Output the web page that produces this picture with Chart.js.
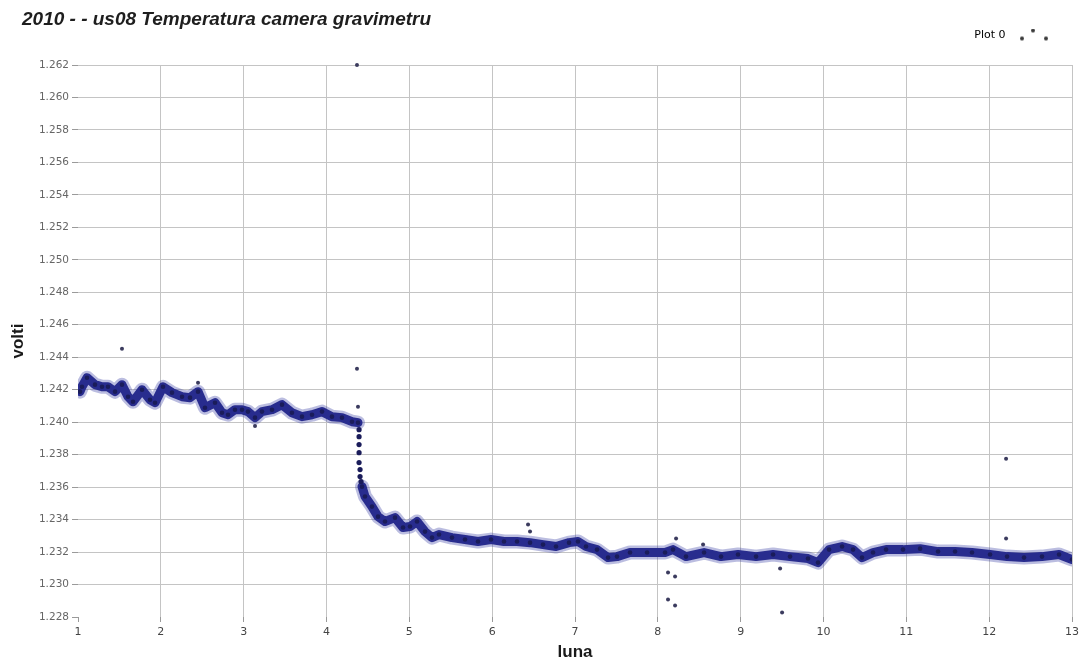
<!DOCTYPE html>
<html>
<head>
<meta charset="utf-8">
<script src="https://cdn.jsdelivr.net/npm/chart.js@4.4.1/dist/chart.umd.min.js"></script>
<style>
html,body{margin:0;padding:0;background:#fff;}
#wrap{width:1083px;height:664px;}
</style>
</head>
<body>
<div id="wrap"><canvas id="c" width="1083" height="664"></canvas></div>
<script>
// ---- texts ----
const chartTitle = '2010 - - us08 Temperatura camera gravimetru';
const seriesName = 'Plot 0';
const xAxisTitle = 'luna';
const yAxisTitle = 'volti';

// ---- tick labels ----
const xTicks = [1,2,3,4,5,6,7,8,9,10,11,12,13];
const yTicks = [1.228,1.230,1.232,1.234,1.236,1.238,1.240,1.242,1.244,1.246,1.248,1.250,1.252,1.254,1.256,1.258,1.260,1.262];

// ---- data: dense band before the drop (luna, volti) ----
const bandBeforeX = [1.024,1.048,1.109,1.205,1.290,1.362,1.447,1.531,1.604,1.664,1.773,1.869,1.930,2.026,2.135,2.256,2.352,2.449,2.533,2.654,2.739,2.811,2.895,2.980,3.052,3.137,3.221,3.342,3.463,3.583,3.704,3.825,3.946,4.066,4.187,4.308,4.380];
const bandBeforeY = [1.24188,1.24218,1.24274,1.24231,1.24218,1.24218,1.24188,1.24231,1.24157,1.24126,1.24200,1.24138,1.24120,1.24218,1.24182,1.24157,1.24151,1.24188,1.24089,1.24120,1.24058,1.24046,1.24077,1.24077,1.24065,1.24028,1.24065,1.24077,1.24108,1.24058,1.24034,1.24046,1.24065,1.24034,1.24028,1.24003,1.23997];

// ---- data: the sharp drop ----
const dropX = [4.393,4.393,4.393,4.393,4.393,4.405,4.405,4.417];
const dropY = [1.23954,1.23911,1.23862,1.23812,1.23751,1.23708,1.23665,1.23634];

// ---- data: dense band after the drop ----
const bandAfterX = [4.429,4.465,4.549,4.622,4.706,4.827,4.924,5.008,5.093,5.189,5.274,5.358,5.515,5.672,5.829,5.986,6.143,6.300,6.457,6.614,6.771,6.928,7.036,7.133,7.266,7.399,7.507,7.664,7.870,8.087,8.183,8.340,8.558,8.763,8.968,9.186,9.391,9.596,9.813,9.934,10.067,10.224,10.357,10.465,10.598,10.755,10.960,11.166,11.383,11.588,11.793,12.011,12.216,12.421,12.638,12.844,13.000];
const bandAfterY = [1.23603,1.23542,1.23480,1.23418,1.23388,1.23412,1.23351,1.23357,1.23388,1.23326,1.23289,1.23308,1.23289,1.23277,1.23265,1.23277,1.23265,1.23265,1.23258,1.23246,1.23234,1.23258,1.23265,1.23234,1.23215,1.23166,1.23172,1.23197,1.23197,1.23197,1.23215,1.23172,1.23197,1.23172,1.23185,1.23172,1.23185,1.23172,1.23160,1.23135,1.23215,1.23234,1.23215,1.23166,1.23197,1.23215,1.23215,1.23221,1.23203,1.23203,1.23197,1.23185,1.23172,1.23166,1.23172,1.23185,1.23154];

// ---- data: isolated points ----
const outlierX = [4.368,1.531,4.368,4.380,6.433,6.457,8.220,8.546,8.123,8.208,8.123,8.208,9.500,12.204,12.204,9.476,3.137,2.449];
const outlierY = [1.26200,1.24452,1.24329,1.24095,1.23369,1.23326,1.23283,1.23246,1.23074,1.23049,1.22908,1.22871,1.22828,1.23775,1.23283,1.23098,1.23977,1.24243];

const pts = (xs, ys) => xs.map((x, i) => ({x: x, y: ys[i]}));

function makeLegendMarker() {
  const c = document.createElement('canvas');
  c.width = 60; c.height = 22;
  const g = c.getContext('2d');
  g.fillStyle = '#3a3a3a';
  [[11,14],[22,6],[35,14]].forEach(p => { g.beginPath(); g.arc(p[0], p[1], 2, 0, Math.PI * 2); g.fill(); });
  return c;
}
const legendMarker = makeLegendMarker();

const titleShift = {
  id: 'titleShift',
  afterLayout(chart) {
    const t = chart.titleBlock;
    if (t) { t.left += 22; t.right += 22; }
  }
};

const GRID = '#c4c4c4';
const BAND = 'rgb(40,44,142)';
const HALO = 'rgba(60,66,165,0.35)';
const DOT = 'rgb(26,28,90)';

const bandStyle = { showLine: true, borderColor: BAND, borderWidth: 9, borderJoinStyle: 'round', borderCapStyle: 'round',
  tension: 0, pointRadius: 2.3, pointBackgroundColor: DOT, pointBorderWidth: 0, order: 2 };
const haloStyle = { showLine: true, borderColor: HALO, borderWidth: 14, borderJoinStyle: 'round', borderCapStyle: 'round',
  tension: 0, pointRadius: 0, order: 3 };

new Chart(document.getElementById('c'), {
  type: 'scatter',
  data: {
    datasets: [
      Object.assign({ label: seriesName, data: pts(bandBeforeX, bandBeforeY) }, bandStyle),
      Object.assign({ label: seriesName, data: pts(bandAfterX, bandAfterY) }, bandStyle),
      Object.assign({ label: seriesName, data: pts(bandBeforeX, bandBeforeY) }, haloStyle),
      Object.assign({ label: seriesName, data: pts(bandAfterX, bandAfterY) }, haloStyle),
      { label: seriesName, data: pts(dropX, dropY), showLine: false, pointRadius: 2.6, pointBackgroundColor: DOT,
        pointBorderWidth: 0, order: 1 },
      { label: seriesName, data: pts(outlierX, outlierY), showLine: false, pointRadius: 2, pointBackgroundColor: '#3b3b5e',
        pointBorderWidth: 0, clip: false, order: 1 }
    ]
  },
  options: {
    responsive: false,
    animation: false,
    events: [],
    layout: { padding: { left: 0, right: 11, top: 0, bottom: 0 } },
    plugins: {
      tooltip: { enabled: false },
      title: {
        display: true, text: chartTitle, align: 'start', color: '#1e1e1e',
        font: { family: 'Liberation Sans', size: 19, weight: 'bold', style: 'italic', lineHeight: 1 },
        padding: { top: 10, bottom: 0 }
      },
      legend: {
        display: true, position: 'top', align: 'start', rtl: true,
        labels: {
          usePointStyle: true, pointStyleWidth: 60, padding: 1, color: '#555',
          font: { family: 'DejaVu Sans', size: 11 },
          generateLabels: () => [{ text: seriesName, pointStyle: legendMarker, fillStyle: '#333', strokeStyle: '#333',
            lineWidth: 0, hidden: false, datasetIndex: 0 }]
        }
      }
    },
    scales: {
      x: {
        type: 'linear', position: 'bottom', min: 1, max: 13,
        afterBuildTicks: s => { s.ticks = xTicks.map(v => ({ value: v })); },
        afterFit: s => { s.height = 47; },
        grid: { color: c => (c.tick && c.tick.value === 1) ? 'rgba(0,0,0,0)' : GRID, tickColor: '#9a9a9a', tickLength: 5, lineWidth: 1 },
        border: { display: false },
        ticks: { color: '#444', padding: 4, maxRotation: 0, font: { family: 'DejaVu Sans', size: 11 }, callback: v => String(v) },
        title: { display: true, text: xAxisTitle, color: '#1a1a1a', font: { family: 'Liberation Sans', size: 17, weight: 'bold' }, padding: { top: 0, bottom: 1 } }
      },
      xTopSpacer: {
        type: 'linear', position: 'top', min: 1, max: 13, display: true,
        afterFit: s => { s.height = 14; },
        grid: { display: false, drawTicks: false }, border: { display: false }, ticks: { display: false }
      },
      y: {
        type: 'linear', position: 'left', min: 1.228, max: 1.262,
        afterBuildTicks: s => { s.ticks = yTicks.map(v => ({ value: v })); },
        afterFit: s => { s.width = 78; },
        grid: { color: c => (c.tick && Math.abs(c.tick.value - 1.228) < 1e-9) ? 'rgba(0,0,0,0)' : GRID, tickColor: '#9a9a9a', tickLength: 6, lineWidth: 1 },
        border: { display: false },
        ticks: { color: '#666', padding: 3, font: { family: 'DejaVu Sans', size: 10.5 }, callback: v => Number(v).toFixed(3) },
        title: { display: true, text: yAxisTitle, color: '#1a1a1a', font: { family: 'Liberation Sans', size: 17, weight: 'bold' }, padding: { top: 8, bottom: 0 } }
      }
    }
  },
  plugins: [titleShift]
});
</script>
</body>
</html>
